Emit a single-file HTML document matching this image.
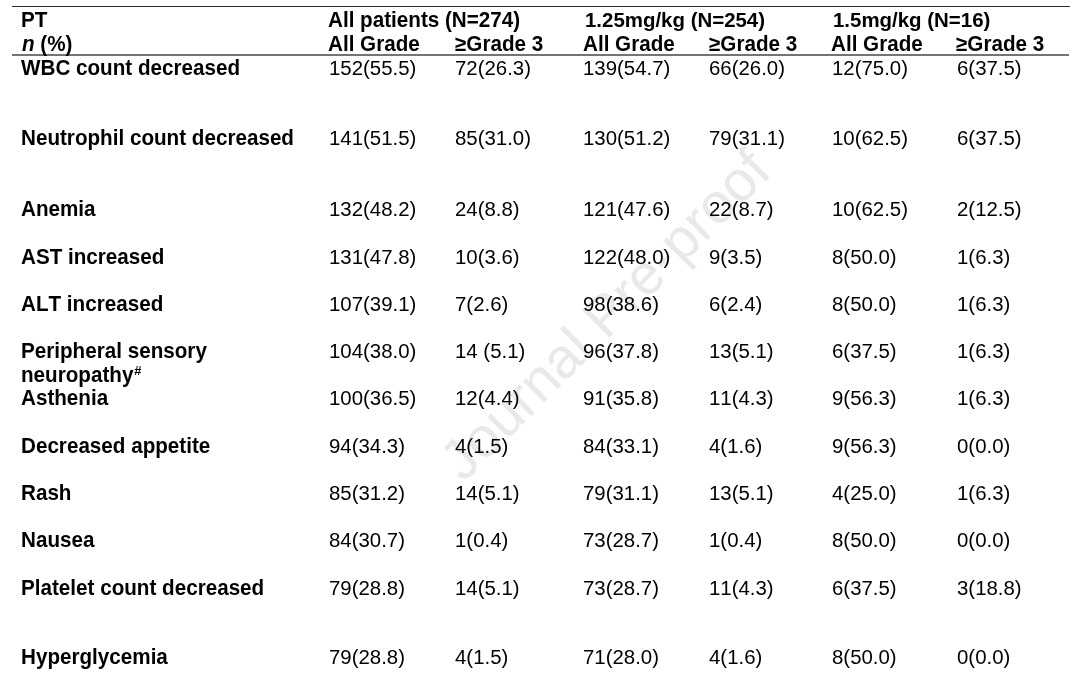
<!DOCTYPE html>
<html><head><meta charset="utf-8"><title>Table</title>
<style>
html,body{margin:0;padding:0;background:#fff;}
body{width:1080px;height:693px;position:relative;overflow:hidden;font-family:"Liberation Sans",sans-serif;color:#000;}
.t{position:absolute;will-change:transform;font-kerning:none;font-variant-ligatures:none;white-space:nowrap;line-height:24px;height:24px;}
.b{font-weight:bold;font-size:20.65px;transform:scaleY(1.03);transform-origin:0 19.1px;}
.n{font-size:20.4px;transform:scaleY(1.03);transform-origin:0 19.1px;}
.hl{position:absolute;left:12px;width:1058px;height:1px;background:#2c2c2c;}
.wm{position:absolute;left:604.7px;top:315.3px;font-size:56.7px;line-height:66px;height:66px;color:#e9e9e9;white-space:nowrap;transform:translate(-50%,-50%) rotate(-45deg);transform-origin:50% 50%;}
sup{font-size:13px;line-height:0;vertical-align:7.4px;font-style:italic;margin-left:0.5px}
</style></head><body>

<div class="wm">Journal Pre-proof</div>
<div class="hl" style="top:6px"></div><div class="hl" style="top:54px;height:2px;width:1057px;background:#747474"></div>
<div class="t b" style="left:21.2px;top:7.5px">PT</div>
<div class="t b" style="left:22.1px;top:31.7px"><i>n</i> (%)</div>
<div class="t b" style="left:328.3px;top:7.5px">All patients (N=274)</div>
<div class="t b" style="left:584.5px;top:7.5px"><span style="font-size:20.45px">1.25mg/kg (N=254)</span></div>
<div class="t b" style="left:833.3px;top:7.5px"><span style="font-size:20.45px">1.5mg/kg (N=16)</span></div>
<div class="t b" style="left:328.3px;top:31.7px">All Grade</div>
<div class="t b" style="left:454.5px;top:31.7px">&ge;Grade 3</div>
<div class="t b" style="left:582.8px;top:31.7px">All Grade</div>
<div class="t b" style="left:709px;top:31.7px">&ge;Grade 3</div>
<div class="t b" style="left:830.8px;top:31.7px">All Grade</div>
<div class="t b" style="left:956.4px;top:31.7px">&ge;Grade 3</div>
<div class="t b" style="left:21.2px;top:56.0px">WBC count decreased</div>
<div class="t n" style="left:329px;top:56.0px">152(55.5)</div>
<div class="t n" style="left:455px;top:56.0px">72(26.3)</div>
<div class="t n" style="left:583px;top:56.0px">139(54.7)</div>
<div class="t n" style="left:709px;top:56.0px">66(26.0)</div>
<div class="t n" style="left:832px;top:56.0px">12(75.0)</div>
<div class="t n" style="left:957px;top:56.0px">6(37.5)</div>
<div class="t b" style="left:21.2px;top:126.0px">Neutrophil count decreased</div>
<div class="t n" style="left:329px;top:126.0px">141(51.5)</div>
<div class="t n" style="left:455px;top:126.0px">85(31.0)</div>
<div class="t n" style="left:583px;top:126.0px">130(51.2)</div>
<div class="t n" style="left:709px;top:126.0px">79(31.1)</div>
<div class="t n" style="left:832px;top:126.0px">10(62.5)</div>
<div class="t n" style="left:957px;top:126.0px">6(37.5)</div>
<div class="t b" style="left:21.2px;top:197.0px">Anemia</div>
<div class="t n" style="left:329px;top:197.0px">132(48.2)</div>
<div class="t n" style="left:455px;top:197.0px">24(8.8)</div>
<div class="t n" style="left:583px;top:197.0px">121(47.6)</div>
<div class="t n" style="left:709px;top:197.0px">22(8.7)</div>
<div class="t n" style="left:832px;top:197.0px">10(62.5)</div>
<div class="t n" style="left:957px;top:197.0px">2(12.5)</div>
<div class="t b" style="left:21.2px;top:244.8px">AST increased</div>
<div class="t n" style="left:329px;top:244.8px">131(47.8)</div>
<div class="t n" style="left:455px;top:244.8px">10(3.6)</div>
<div class="t n" style="left:583px;top:244.8px">122(48.0)</div>
<div class="t n" style="left:709px;top:244.8px">9(3.5)</div>
<div class="t n" style="left:832px;top:244.8px">8(50.0)</div>
<div class="t n" style="left:957px;top:244.8px">1(6.3)</div>
<div class="t b" style="left:21.2px;top:291.7px">ALT increased</div>
<div class="t n" style="left:329px;top:291.7px">107(39.1)</div>
<div class="t n" style="left:455px;top:291.7px">7(2.6)</div>
<div class="t n" style="left:583px;top:291.7px">98(38.6)</div>
<div class="t n" style="left:709px;top:291.7px">6(2.4)</div>
<div class="t n" style="left:832px;top:291.7px">8(50.0)</div>
<div class="t n" style="left:957px;top:291.7px">1(6.3)</div>
<div class="t b" style="left:21.2px;top:339.0px">Peripheral sensory</div>
<div class="t n" style="left:329px;top:339.0px">104(38.0)</div>
<div class="t n" style="left:455px;top:339.0px">14 (5.1)</div>
<div class="t n" style="left:583px;top:339.0px">96(37.8)</div>
<div class="t n" style="left:709px;top:339.0px">13(5.1)</div>
<div class="t n" style="left:832px;top:339.0px">6(37.5)</div>
<div class="t n" style="left:957px;top:339.0px">1(6.3)</div>
<div class="t b" style="left:21.2px;top:386.0px">Asthenia</div>
<div class="t n" style="left:329px;top:386.0px">100(36.5)</div>
<div class="t n" style="left:455px;top:386.0px">12(4.4)</div>
<div class="t n" style="left:583px;top:386.0px">91(35.8)</div>
<div class="t n" style="left:709px;top:386.0px">11(4.3)</div>
<div class="t n" style="left:832px;top:386.0px">9(56.3)</div>
<div class="t n" style="left:957px;top:386.0px">1(6.3)</div>
<div class="t b" style="left:21.2px;top:433.7px">Decreased appetite</div>
<div class="t n" style="left:329px;top:433.7px">94(34.3)</div>
<div class="t n" style="left:455px;top:433.7px">4(1.5)</div>
<div class="t n" style="left:583px;top:433.7px">84(33.1)</div>
<div class="t n" style="left:709px;top:433.7px">4(1.6)</div>
<div class="t n" style="left:832px;top:433.7px">9(56.3)</div>
<div class="t n" style="left:957px;top:433.7px">0(0.0)</div>
<div class="t b" style="left:21.2px;top:481.0px">Rash</div>
<div class="t n" style="left:329px;top:481.0px">85(31.2)</div>
<div class="t n" style="left:455px;top:481.0px">14(5.1)</div>
<div class="t n" style="left:583px;top:481.0px">79(31.1)</div>
<div class="t n" style="left:709px;top:481.0px">13(5.1)</div>
<div class="t n" style="left:832px;top:481.0px">4(25.0)</div>
<div class="t n" style="left:957px;top:481.0px">1(6.3)</div>
<div class="t b" style="left:21.2px;top:528.0px">Nausea</div>
<div class="t n" style="left:329px;top:528.0px">84(30.7)</div>
<div class="t n" style="left:455px;top:528.0px">1(0.4)</div>
<div class="t n" style="left:583px;top:528.0px">73(28.7)</div>
<div class="t n" style="left:709px;top:528.0px">1(0.4)</div>
<div class="t n" style="left:832px;top:528.0px">8(50.0)</div>
<div class="t n" style="left:957px;top:528.0px">0(0.0)</div>
<div class="t b" style="left:21.2px;top:575.7px">Platelet count decreased</div>
<div class="t n" style="left:329px;top:575.7px">79(28.8)</div>
<div class="t n" style="left:455px;top:575.7px">14(5.1)</div>
<div class="t n" style="left:583px;top:575.7px">73(28.7)</div>
<div class="t n" style="left:709px;top:575.7px">11(4.3)</div>
<div class="t n" style="left:832px;top:575.7px">6(37.5)</div>
<div class="t n" style="left:957px;top:575.7px">3(18.8)</div>
<div class="t b" style="left:21.2px;top:645.4px">Hyperglycemia</div>
<div class="t n" style="left:329px;top:645.4px">79(28.8)</div>
<div class="t n" style="left:455px;top:645.4px">4(1.5)</div>
<div class="t n" style="left:583px;top:645.4px">71(28.0)</div>
<div class="t n" style="left:709px;top:645.4px">4(1.6)</div>
<div class="t n" style="left:832px;top:645.4px">8(50.0)</div>
<div class="t n" style="left:957px;top:645.4px">0(0.0)</div>
<div class="t b" style="left:21.2px;top:363.0px">neuropathy<sup>#</sup></div>
</body></html>
